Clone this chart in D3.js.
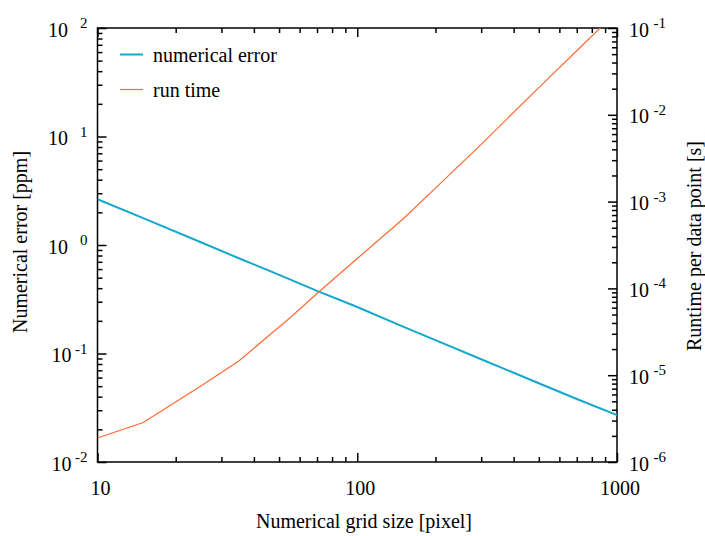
<!DOCTYPE html>
<html>
<head>
<meta charset="utf-8">
<script src="https://cdn.jsdelivr.net/npm/d3@7"></script>
<style>
  @font-face { font-family: "ChartSerif"; src: local("Liberation Serif"), local("LiberationSerif"), local("Liberation Serif Regular"); }
  html, body { margin: 0; padding: 0; background: #fff; }
</style>
</head>
<body>
<svg id="chart" width="705" height="536" style="display:block"></svg>
<script>
// ---- data ----
const gridSize = [10, 15, 25, 35, 45, 55, 70, 100, 150, 200, 300, 500, 700, 1000];
const numericalError = [2.64, 1.77, 1.06, 0.755, 0.59, 0.482, 0.378, 0.268, 0.177, 0.133, 0.0885, 0.0532, 0.0381, 0.0271];
const runTime = [1.89e-6, 2.85e-6, 7.5e-6, 1.46e-5, 2.75e-5, 4.56e-5, 8.75e-5, 2.21e-4, 6.3e-4, 1.43e-3, 4.56e-3, 2.06e-2, 5.47e-2, 0.154];
const seriesNames = ["numerical error", "run time"];
const seriesColors = ["#15a8cf", "#ff6a30"];
const xTickLabels = ["10", "100", "1000"];
const leftExponents = ["-2", "-1", "0", "1", "2"];
const rightExponents = ["-6", "-5", "-4", "-3", "-2", "-1"];
const xTitle = "Numerical grid size [pixel]";
const yLeftTitle = "Numerical error [ppm]";
const yRightTitle = "Runtime per data point [s]";

// ---- layout ----
const L = 97.5, R = 617, T = 28, B = 462;
const svg = d3.select("#chart");

const x = d3.scaleLog().domain([10, 1000]).range([L, R]);
const yL = d3.scaleLog().domain([1e-2, 1e2]).range([B, T]);
const yR = d3.scaleLog().domain([1e-6, 1e-1]).range([B, T]);

const isMajor = v => Math.abs(Math.log10(v) - Math.round(Math.log10(v))) < 1e-9;
const split = arr => [arr.filter(isMajor), arr.filter(v => !isMajor(v))];
const [xMaj, xMin] = split(x.ticks()), [yLMaj, yLMin] = split(yL.ticks()), [yRMaj, yRMin] = split(yR.ticks());

function drawAxis(gen, tr, vals, size) {
  const g = svg.append("g").attr("transform", tr)
    .call(gen.tickValues(vals).tickSize(size).tickFormat(""));
  g.select(".domain").remove();
  g.selectAll(".tick line").attr("stroke", "#000").attr("stroke-width", 1.5);
}
drawAxis(d3.axisBottom(x), `translate(0,${B})`, xMin, -5);
drawAxis(d3.axisBottom(x), `translate(0,${B})`, xMaj, -9);
drawAxis(d3.axisTop(x), `translate(0,${T})`, xMin, -5);
drawAxis(d3.axisTop(x), `translate(0,${T})`, xMaj, -9);
drawAxis(d3.axisLeft(yL), `translate(${L},0)`, yLMin, -5);
drawAxis(d3.axisLeft(yL), `translate(${L},0)`, yLMaj, -9);
drawAxis(d3.axisRight(yR), `translate(${R},0)`, yRMin, -5);
drawAxis(d3.axisRight(yR), `translate(${R},0)`, yRMaj, -9);

// border
svg.append("rect").attr("x", L).attr("y", T).attr("width", R - L).attr("height", B - T)
  .attr("fill", "none").attr("stroke", "#000").attr("stroke-width", 1.5);

// clip
svg.append("clipPath").attr("id", "clip").append("rect")
  .attr("x", L).attr("y", T).attr("width", R - L).attr("height", B - T);

// lines
const lineErr = d3.line().x((d, i) => x(gridSize[i])).y(d => yL(d));
const lineRun = d3.line().x((d, i) => x(gridSize[i])).y(d => yR(d));
const gl = svg.append("g").attr("clip-path", "url(#clip)");
gl.append("path").attr("d", lineErr(numericalError)).attr("fill", "none")
  .attr("stroke", seriesColors[0]).attr("stroke-width", 2);
gl.append("path").attr("d", lineRun(runTime)).attr("fill", "none")
  .attr("stroke", seriesColors[1]).attr("stroke-width", 1.2);

// tick labels
const fs = 20, sfs = 15;
function txt(sel) {
  return sel.append("text")
    .style("font-family", '"Times New Roman", "ChartSerif", "Liberation Serif", Tinos, Times, serif')
    .attr("font-size", fs).attr("fill", "#000");
}
xMaj.forEach((v, i) => {
  txt(svg).attr("x", x(v) + 3).attr("y", 495).attr("text-anchor", "middle").text(xTickLabels[i]);
});
yLMaj.forEach((v, i) => {
  const e = leftExponents[i];
  const t = txt(svg).attr("x", 87.5).attr("y", yL(v) + 8.5).attr("text-anchor", "end");
  t.append("tspan").text("10");
  t.append("tspan").attr("dx", e.startsWith("-") ? 3.5 : 12).attr("dy", -8.5)
    .attr("font-size", sfs).text(e);
});
yRMaj.forEach((v, i) => {
  const e = rightExponents[i];
  const t = txt(svg).attr("x", 629).attr("y", yR(v) + 8.5).attr("text-anchor", "start");
  t.append("tspan").text("10");
  t.append("tspan").attr("dx", 4.5).attr("dy", -8.5).attr("font-size", sfs).text(e);
});

// axis titles
txt(svg).attr("x", 364).attr("y", 528).attr("text-anchor", "middle").text(xTitle);
txt(svg).attr("transform", "translate(27,242) rotate(-90)").attr("text-anchor", "middle").text(yLeftTitle);
txt(svg).attr("transform", "translate(701,246) rotate(-90)").attr("text-anchor", "middle").text(yRightTitle);

// legend
const legY = [54.5, 89.5];
seriesNames.forEach((name, i) => {
  svg.append("line").attr("x1", 120).attr("x2", 143).attr("y1", legY[i]).attr("y2", legY[i])
    .attr("stroke", seriesColors[i]).attr("stroke-width", i === 0 ? 2 : 1.2);
  txt(svg).attr("x", 153).attr("y", legY[i] + 7.5).text(name);
});
</script>
</body>
</html>
